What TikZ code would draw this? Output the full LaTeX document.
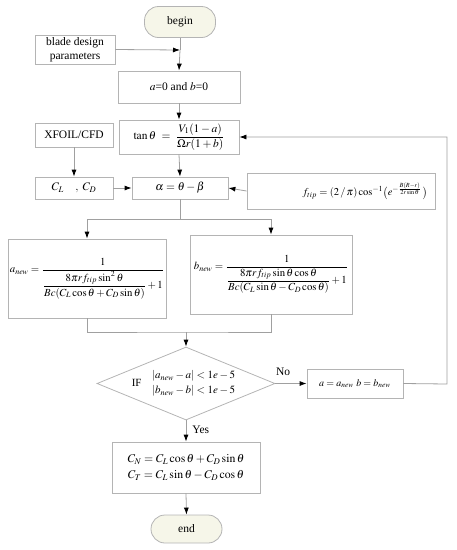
\documentclass[tikz,border=0pt]{standalone}
\usepackage{amsmath}
\usepackage{mathptmx}
\usepackage[no-math]{fontspec}
\setmainfont{Liberation Serif}
\usetikzlibrary{shapes.geometric,arrows.meta}
\definecolor{bordergray}{HTML}{B4B4B4}
\definecolor{linegray}{HTML}{A0A0A0}
\definecolor{cream}{HTML}{F6F6E9}
\begin{document}
\begin{tikzpicture}[x=1pt,y=-1pt,
  box/.style={draw=bordergray,line width=0.8pt,rectangle,inner sep=0pt,align=center,font=\fontsize{11.5}{13.5}\selectfont},
  term/.style={box,fill=cream,rounded corners=14pt},
  conn/.style={draw=linegray,line width=0.8pt},
  arr/.style={conn,-{Latex[length=7pt,width=5pt,black]}},
  lbl/.style={font=\fontsize{11.5}{13.5}\selectfont,inner sep=0pt}]
\useasboundingbox (0,0) rectangle (457,550);
\node[term,minimum width=71pt,minimum height=31pt] (begin) at (180,22) {begin};
\node[box,minimum width=80pt,minimum height=29pt] (blade) at (75,49.5) {blade design\\parameters};
\node[box,minimum width=122pt,minimum height=32pt] (a0) at (179,87) {$a$=0 and $b$=0};
\node[box,minimum width=120pt,minimum height=34pt] (tan) at (179,137) {$\tan\theta\ =\ \dfrac{V_1(1-a)}{\Omega r(1+b)}$};
\node[box,minimum width=78pt,minimum height=24pt] (xfoil) at (74,135) {XFOIL/CFD};
\node[box,minimum width=78pt,minimum height=22pt] (cl) at (74,188) {$C_L\quad,\ C_D$};
\node[box,minimum width=96pt,minimum height=22pt] (alpha) at (180,188) {$\alpha=\theta-\beta$};
\node[box,minimum width=188pt,minimum height=36pt,font=\fontsize{10.5}{12}\selectfont] (ftip) at (341,191) {\hspace*{48pt}$f_{tip}=(2\,/\,\pi)\cos^{-1}\bigl(e^{-\frac{B(R-r)}{2r\sin\theta}}\,\bigr)$};
\node[box,minimum width=158pt,minimum height=79pt,font=\fontsize{10.8}{12}\selectfont] (anew) at (87,278.5) {$a_{new}=\dfrac{1}{\dfrac{8\pi r f_{tip}\sin^2\theta}{Bc(C_L\cos\theta+C_D\sin\theta)}+1}$};
\node[box,minimum width=162pt,minimum height=79pt,font=\fontsize{10.8}{12}\selectfont] (bnew) at (271,274.5) {$b_{new}=\dfrac{1}{\dfrac{8\pi r f_{tip}\sin\theta\cos\theta}{Bc(C_L\sin\theta-C_D\cos\theta)}+1}$};
\node[draw=bordergray,line width=0.8pt,diamond,aspect=2.44,minimum width=178pt,minimum height=73pt,inner sep=0pt,font=\fontsize{11}{13}\selectfont] (dec) at (186,383.5) {IF\ \ $\begin{array}{l}\left|a_{new}-a\right|<1e-5\\[2pt] \left|b_{new}-b\right|<1e-5\end{array}$};
\node[box,minimum width=96pt,minimum height=29pt,font=\fontsize{10}{12}\selectfont] (upd) at (355,383.5) {$a=a_{new}\ b=b_{new}$};
\node[box,minimum width=148pt,minimum height=51pt,font=\fontsize{11.8}{14}\selectfont] (cn) at (186,467.5) {$C_N=C_L\cos\theta+C_D\sin\theta$\\[2pt]$C_T=C_L\sin\theta-C_D\cos\theta$};
\node[term,minimum width=71pt,minimum height=28pt] (end) at (186.5,529) {end};
\coordinate (bj) at (180,50);
\coordinate (split) at (180,219);
\coordinate (join) at (186,332);
\coordinate (fr) at (447,384);
\draw[conn] (begin.south) -- (bj);
\draw[arr] (blade.east) -- (bj);
\draw[arr] (bj) -- (a0.north);
\draw[arr] (a0.south) -- (tan.north);
\draw[arr] (tan.south) -- (alpha.north);
\draw[arr] (xfoil.south) -- (cl.north);
\draw[arr] (cl.east) -- (alpha.west);
\draw[arr] (ftip.west) -- (alpha.east);
\draw[conn] (alpha.south) -- (split);
\draw[arr] (split) -| (anew.north);
\draw[arr] (split) -| (bnew.north);
\draw[conn] (anew.south) |- (join) -| (bnew.south);
\draw[arr] (join) -- (dec.north);
\draw[arr] (dec.east) -- node[lbl,above=7pt,pos=0.25] {No} (upd.west);
\draw[arr] (upd.east) -- (fr) |- (tan.east);
\draw[arr] (dec.south) -- node[lbl,right=6pt,pos=0.45] {Yes} (cn.north);
\draw[arr] (cn.south) -- (end.north);
\end{tikzpicture}
\end{document}
